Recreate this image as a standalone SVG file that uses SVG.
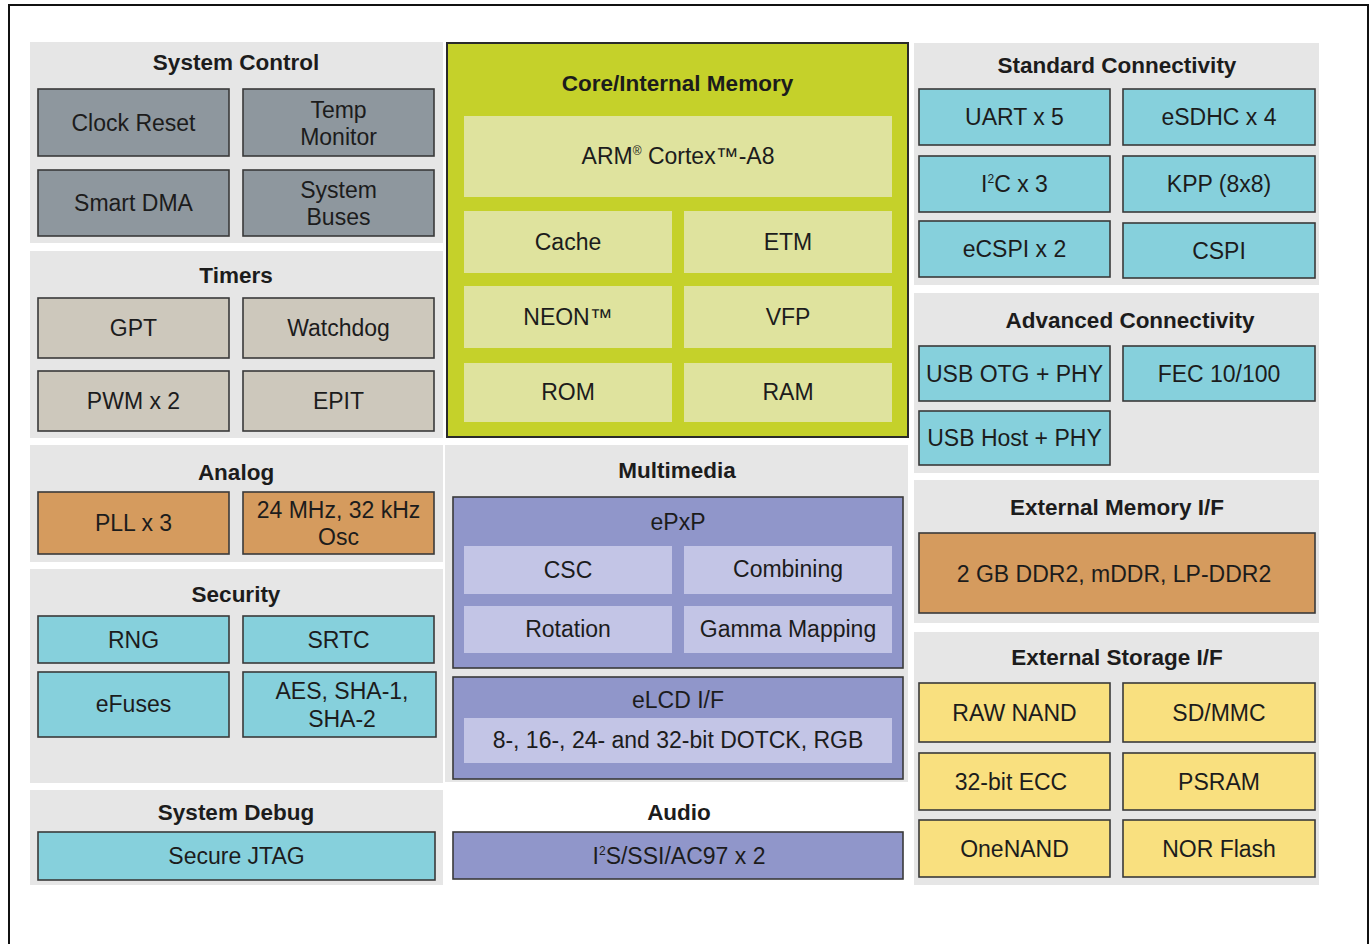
<svg xmlns="http://www.w3.org/2000/svg" width="1370" height="944" viewBox="0 0 1370 944">
<style>
text{font-family:"Liberation Sans",Arial,sans-serif;fill:#1c1c1c;text-anchor:middle}
.t{font-weight:bold;font-size:22.5px}
.b{font-size:23px}
.panel{fill:#e6e6e6}
.box{stroke:#3a3a3a;stroke-width:1.6}
.gray{fill:#8e979e}
.tan{fill:#cdc8bc}
.orange{fill:#d59b5e}
.cyan{fill:#86d0dc}
.purple{fill:#9096ca}
.lpurple{fill:#c3c5e6}
.yellow{fill:#f9e07f}
.green{fill:#c5d12a}
.lgreen{fill:#dfe39e}
.frame{fill:none;stroke:#111;stroke-width:2}
</style>
<rect width="1370" height="944" fill="#fff"/>
<path class="frame" d="M9,944 V5 H1368 V944"/>

<g id="system-control">
<rect class="panel" x="30" y="42" width="413" height="201"/>
<text class="t" x="236" y="70">System Control</text>
<rect class="box gray" x="38" y="89" width="191" height="67"/>
<text class="b" x="133.5" y="131">Clock Reset</text>
<rect class="box gray" x="243" y="89" width="191" height="67"/>
<text class="b" x="338.5" y="118">Temp</text>
<text class="b" x="338.5" y="145">Monitor</text>
<rect class="box gray" x="38" y="170" width="191" height="66"/>
<text class="b" x="133.5" y="211">Smart DMA</text>
<rect class="box gray" x="243" y="170" width="191" height="66"/>
<text class="b" x="338.5" y="198">System</text>
<text class="b" x="338.5" y="225">Buses</text>
</g>

<g id="timers">
<rect class="panel" x="30" y="251" width="413" height="187"/>
<text class="t" x="236" y="283">Timers</text>
<rect class="box tan" x="38" y="298" width="191" height="60"/>
<text class="b" x="133.5" y="336">GPT</text>
<rect class="box tan" x="243" y="298" width="191" height="60"/>
<text class="b" x="338.5" y="336">Watchdog</text>
<rect class="box tan" x="38" y="371" width="191" height="60"/>
<text class="b" x="133.5" y="409">PWM x 2</text>
<rect class="box tan" x="243" y="371" width="191" height="60"/>
<text class="b" x="338.5" y="409">EPIT</text>
</g>

<g id="analog">
<rect class="panel" x="30" y="445" width="413" height="117"/>
<text class="t" x="236" y="480">Analog</text>
<rect class="box orange" x="38" y="492" width="191" height="62"/>
<text class="b" x="133.5" y="531">PLL x 3</text>
<rect class="box orange" x="243" y="492" width="191" height="62"/>
<text class="b" x="338.5" y="518">24 MHz, 32 kHz</text>
<text class="b" x="338.5" y="545">Osc</text>
</g>

<g id="security">
<rect class="panel" x="30" y="569" width="413" height="214"/>
<text class="t" x="236" y="602">Security</text>
<rect class="box cyan" x="38" y="616" width="191" height="47"/>
<text class="b" x="133.5" y="648">RNG</text>
<rect class="box cyan" x="243" y="616" width="191" height="47"/>
<text class="b" x="338.5" y="648">SRTC</text>
<rect class="box cyan" x="38" y="672" width="191" height="65"/>
<text class="b" x="133.5" y="712">eFuses</text>
<rect class="box cyan" x="243" y="672" width="193" height="65"/>
<text class="b" x="342" y="699">AES, SHA-1,</text>
<text class="b" x="342" y="727">SHA-2</text>
</g>

<g id="system-debug">
<rect class="panel" x="30" y="790" width="413" height="95"/>
<text class="t" x="236" y="820">System Debug</text>
<rect class="box cyan" x="38" y="832" width="397" height="48"/>
<text class="b" x="236.5" y="864">Secure JTAG</text>
</g>

<g id="core-memory">
<rect class="green" x="447" y="43" width="461" height="394" stroke="#2a2a2a" stroke-width="2"/>
<text class="t" x="677.5" y="91">Core/Internal Memory</text>
<rect class="lgreen" x="464" y="116" width="428" height="81"/>
<text class="b" x="678" y="164">ARM<tspan font-size="12" dy="-9">®</tspan><tspan dy="9"> Cortex™-A8</tspan></text>
<rect class="lgreen" x="464" y="211" width="208" height="62"/>
<text class="b" x="568" y="250">Cache</text>
<rect class="lgreen" x="684" y="211" width="208" height="62"/>
<text class="b" x="788" y="250">ETM</text>
<rect class="lgreen" x="464" y="286" width="208" height="62"/>
<text class="b" x="568" y="325">NEON™</text>
<rect class="lgreen" x="684" y="286" width="208" height="62"/>
<text class="b" x="788" y="325">VFP</text>
<rect class="lgreen" x="464" y="363" width="208" height="59"/>
<text class="b" x="568" y="400">ROM</text>
<rect class="lgreen" x="684" y="363" width="208" height="59"/>
<text class="b" x="788" y="400">RAM</text>
</g>

<g id="multimedia">
<rect class="panel" x="445" y="445" width="463" height="337"/>
<text class="t" x="677" y="478">Multimedia</text>
<g id="epxp">
<rect class="box purple" x="453" y="497" width="450" height="171"/>
<text class="b" x="678" y="530">ePxP</text>
<rect class="lpurple" x="464" y="546" width="208" height="48"/>
<text class="b" x="568" y="578">CSC</text>
<rect class="lpurple" x="684" y="546" width="208" height="48"/>
<text class="b" x="788" y="577">Combining</text>
<rect class="lpurple" x="464" y="606" width="208" height="47"/>
<text class="b" x="568" y="637">Rotation</text>
<rect class="lpurple" x="684" y="606" width="208" height="47"/>
<text class="b" x="788" y="637">Gamma Mapping</text>
</g>
<g id="elcd">
<rect class="box purple" x="453" y="677" width="450" height="102"/>
<text class="b" x="678" y="708">eLCD I/F</text>
<rect class="lpurple" x="464" y="718" width="428" height="45"/>
<text class="b" x="678" y="748">8-, 16-, 24- and 32-bit DOTCK, RGB</text>
</g>
</g>

<g id="audio">
<text class="t" x="679" y="820">Audio</text>
<rect class="box purple" x="453" y="832" width="450" height="47"/>
<text class="b" x="679" y="864">I<tspan font-size="12" dy="-9">2</tspan><tspan dy="9">S/SSI/AC97 x 2</tspan></text>
</g>

<g id="standard-connectivity">
<rect class="panel" x="914" y="43" width="405" height="242"/>
<text class="t" x="1117" y="73">Standard Connectivity</text>
<rect class="box cyan" x="919" y="89" width="191" height="56"/>
<text class="b" x="1014.5" y="125">UART x 5</text>
<rect class="box cyan" x="1123" y="89" width="192" height="56"/>
<text class="b" x="1219" y="125">eSDHC x 4</text>
<rect class="box cyan" x="919" y="156" width="191" height="56"/>
<text class="b" x="1014.5" y="192">I<tspan font-size="12" dy="-9">2</tspan><tspan dy="9">C x 3</tspan></text>
<rect class="box cyan" x="1123" y="156" width="192" height="56"/>
<text class="b" x="1219" y="192">KPP (8x8)</text>
<rect class="box cyan" x="919" y="221" width="191" height="56"/>
<text class="b" x="1014.5" y="257">eCSPI x 2</text>
<rect class="box cyan" x="1123" y="223" width="192" height="55"/>
<text class="b" x="1219" y="259">CSPI</text>
</g>

<g id="advanced-connectivity">
<rect class="panel" x="914" y="293" width="405" height="180"/>
<text class="t" x="1130" y="328">Advanced Connectivity</text>
<rect class="box cyan" x="919" y="346" width="191" height="55"/>
<text class="b" x="1014.5" y="382">USB OTG + PHY</text>
<rect class="box cyan" x="1123" y="346" width="192" height="55"/>
<text class="b" x="1219" y="382">FEC 10/100</text>
<rect class="box cyan" x="919" y="411" width="191" height="54"/>
<text class="b" x="1014.5" y="446">USB Host + PHY</text>
</g>

<g id="external-memory">
<rect class="panel" x="914" y="480" width="405" height="143"/>
<text class="t" x="1117" y="515">External Memory I/F</text>
<rect class="box orange" x="919" y="533" width="396" height="80"/>
<text class="b" x="1114" y="582">2 GB DDR2, mDDR, LP-DDR2</text>
</g>

<g id="external-storage">
<rect class="panel" x="914" y="632" width="405" height="253"/>
<text class="t" x="1117" y="665">External Storage I/F</text>
<rect class="box yellow" x="919" y="683" width="191" height="59"/>
<text class="b" x="1014.5" y="721">RAW NAND</text>
<rect class="box yellow" x="1123" y="683" width="192" height="59"/>
<text class="b" x="1219" y="721">SD/MMC</text>
<rect class="box yellow" x="919" y="753" width="191" height="57"/>
<text class="b" x="1011" y="790">32-bit ECC</text>
<rect class="box yellow" x="1123" y="753" width="192" height="57"/>
<text class="b" x="1219" y="790">PSRAM</text>
<rect class="box yellow" x="919" y="820" width="191" height="57"/>
<text class="b" x="1014.5" y="857">OneNAND</text>
<rect class="box yellow" x="1123" y="820" width="192" height="57"/>
<text class="b" x="1219" y="857">NOR Flash</text>
</g>

<g id="connectors"></g>
</svg>
